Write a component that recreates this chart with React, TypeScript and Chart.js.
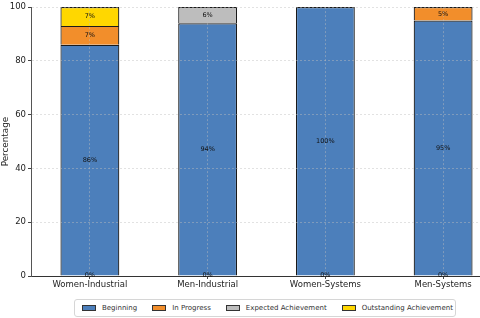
import React, { useEffect, useRef } from "react";
import { Chart, registerables } from "chart.js";

Chart.register(...registerables);

const categories = ["Women-Industrial", "Men-Industrial", "Women-Systems", "Men-Systems"];
const seriesNames = ["Beginning", "In Progress", "Expected Achievement", "Outstanding Achievement"];
const beginning = [86, 94, 100, 95];
const inProgress = [7, 0, 0, 5];
const expected = [0, 6, 0, 0];
const outstanding = [7, 0, 0, 0];
const baseLabels = ["0%", "0%", "0%", "0%"];
const yTicks = [0, 20, 40, 60, 80, 100];
const colors = ["#4c7fbb", "#f28e2b", "#bdbdbd", "#ffd700"];

const FONT = "'DejaVu Sans', sans-serif";
const GRID = "rgba(190,190,190,0.45)";

const labelPlugin = {
  id: "segLabels",
  afterDraw(chart: any) {
    const ctx = chart.ctx;
    const y = chart.scales.y;
    ctx.save();
    ctx.font = `6.5px ${FONT}`;
    ctx.fillStyle = "#111";
    ctx.textAlign = "center";
    ctx.textBaseline = "middle";
    const cum = categories.map(() => 0);
    chart.data.datasets.forEach((ds: any, i: number) => {
      const meta = chart.getDatasetMeta(i);
      ds.data.forEach((v: number, j: number) => {
        if (v > 0) {
          const mid = cum[j] + v / 2;
          ctx.fillText(`${v}%`, meta.data[j].x, y.getPixelForValue(mid));
        }
        cum[j] += v;
      });
    });
    const meta0 = chart.getDatasetMeta(0);
    baseLabels.forEach((t, j) => {
      ctx.fillText(t, meta0.data[j].x, y.getPixelForValue(0) - 1);
    });
    ctx.restore();
  },
};

export default function App() {
  const ref = useRef<HTMLCanvasElement>(null);
  useEffect(() => {
    document.body.style.overflow = "hidden";
    const series = [beginning, inProgress, expected, outstanding];
    const chart = new Chart(ref.current!, {
      type: "bar",
      data: {
        labels: categories,
        datasets: series.map((d, i) => ({
          label: seriesNames[i],
          data: d,
          backgroundColor: colors[i],
          borderColor: "#1a1a1a",
          borderWidth: 1.2,
          barPercentage: 0.5,
          categoryPercentage: 1,
        })),
      },
      options: {
        responsive: false,
        animation: false,
        layout: { padding: { top: 5, right: 30, left: 0, bottom: 0 } },
        plugins: { legend: { display: false }, tooltip: { enabled: false } },
        scales: {
          x: {
            stacked: true,
            offset: true,
            grid: {
              offset: false,
              color: GRID,
              tickColor: "#444",
              tickLength: 3,
              z: 1,
            },
            border: { color: "#333", width: 1, dash: [2, 2], z: 2 },
            ticks: { color: "#222", font: { family: FONT, size: 8.5 }, padding: 1, maxRotation: 0 },
            afterFit(s: any) {
              s.height = 42;
            },
          },
          y: {
            stacked: true,
            min: 0,
            max: 100,
            afterBuildTicks(s: any) {
              s.ticks = yTicks.map((v) => ({ value: v }));
            },
            grid: {
              color: GRID,
              tickColor: "#444",
              tickLength: 3,
              z: 1,
            },
            border: { color: "#555", width: 1, dash: [2, 2], z: 2 },
            ticks: { color: "#222", font: { family: FONT, size: 8.5 }, padding: 2 },
            title: {
              display: true,
              text: "Percentage",
              color: "#222",
              font: { family: FONT, size: 8.8 },
              padding: 0,
            },
            afterFit(s: any) {
              s.width = 31;
            },
          },
        },
      },
      plugins: [labelPlugin],
    } as any);
    return () => chart.destroy();
  }, []);

  return (
    <div style={{ position: "fixed", left: 0, top: 0, width: 480, height: 318, overflow: "hidden", background: "#fff" }}>
      <canvas ref={ref} width={532} height={318} style={{ position: "absolute", left: 0, top: 0 }} />
      <div
        style={{
          position: "absolute",
          left: 74,
          top: 299,
          width: 382,
          height: 18,
          boxSizing: "border-box",
          border: "1px solid #d6d6d6",
          borderRadius: 3,
          background: "#fff",
          display: "flex",
          alignItems: "center",
          paddingLeft: 7,
          gap: 15,
          fontFamily: FONT,
          fontSize: 7,
          color: "#333",
          whiteSpace: "nowrap",
        }}
      >
        {seriesNames.map((n, i) => (
          <div key={n} style={{ display: "flex", alignItems: "center" }}>
            <span
              style={{
                display: "inline-block",
                width: 14,
                height: 6,
                boxSizing: "border-box",
                border: "1px solid #333",
                background: colors[i],
                marginRight: 6,
              }}
            />
            <span>{n}</span>
          </div>
        ))}
      </div>
    </div>
  );
}
